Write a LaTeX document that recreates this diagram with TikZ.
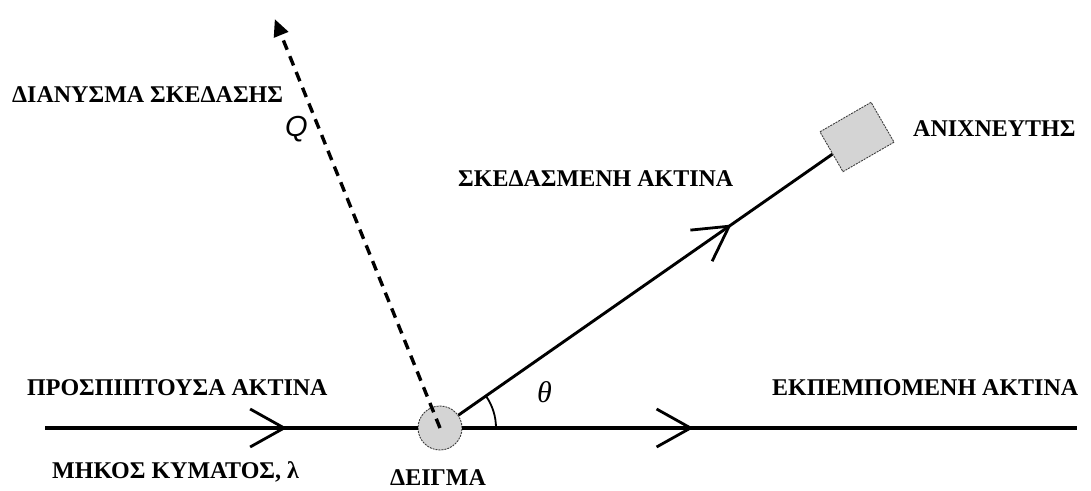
\documentclass[tikz,border=0pt]{standalone}
\usepackage{fontspec}
\setmainfont{Liberation Serif}
\newfontfamily\vecfont{Liberation Sans}
\usetikzlibrary{arrows.meta, positioning, decorations.markings}
\definecolor{samplegray}{RGB}{212,212,212}
\definecolor{edgegray}{RGB}{60,60,60}

\begin{document}
\begin{tikzpicture}[x=1pt, y=1pt,
    beamtext/.style={font=\fontsize{24}{26}\selectfont\bfseries, inner sep=0pt, anchor=base west},
    symtext/.style={inner sep=0pt, anchor=base west},
    beam/.style={line width=3.2pt},
    chevron/.style={postaction={decorate},
        decoration={markings, mark=at position #1 with
        {\arrow{Straight Barb[length=34pt, width=38pt, line width=2.8pt]}}}},
    holder/.style={fill=samplegray, draw=edgegray, line width=0.9pt,
                   dash pattern=on 2pt off 1pt},
    qvec/.style={line width=3.4pt, dash pattern=on 10pt off 7pt,
                 -{Triangle[length=17pt, width=15pt]}}
]
\useasboundingbox (0,0) rectangle (1091,490);

% sample and detector
\node[holder, circle, minimum size=44pt, inner sep=0pt] (smp) at (440,62) {};
\node[holder, rectangle, rotate=30, minimum width=59pt, minimum height=46pt,
      inner sep=0pt] (det) at (857,353) {};

\coordinate (src)  at (45,62);
\coordinate (sink) at (1077,62);
\path (smp.center) ++(112:441) coordinate (qtip);

% beams
\draw[beam, chevron=242pt] (src) -- (smp);
\draw[beam, chevron=231pt] (smp) -- (sink);
\draw[beam, line width=2.9pt, chevron=333pt] (smp) -- (det);
\draw[qvec] (smp.center) -- (qtip);
\draw[line width=1.8pt] (smp.center) ++(0:56) arc[start angle=0, end angle=35, radius=56];

% labels
\node[beamtext] (qTitle)   at (12,387)  {ΔΙΑΝΥΣΜΑ ΣΚΕΔΑΣΗΣ};
\node[beamtext] (scatTxt)  at (458,303) {ΣΚΕΔΑΣΜΕΝΗ ΑΚΤΙΝΑ};
\node[beamtext] (detTxt)   at (913,353) {ΑΝΙΧΝΕΥΤΗΣ};
\node[beamtext] (incTxt)   at (27,95)   {ΠΡΟΣΠΙΠΤΟΥΣΑ ΑΚΤΙΝΑ};
\node[beamtext] (waveTxt)  at (52,12)   {ΜΗΚΟΣ ΚΥΜΑΤΟΣ, λ};
\node[beamtext] (outTxt)   at (772,95)  {ΕΚΠΕΜΠΟΜΕΝΗ ΑΚΤΙΝΑ};
\node[beamtext] (smpTxt)   at (390,5)   {ΔΕΙΓΜΑ};
\node[symtext, font=\vecfont\itshape\fontsize{29}{31}\selectfont] (qTxt) at (285,353) {Q};
\node[symtext, font=\itshape\fontsize{30}{32}\selectfont] (thTxt) at (537,88) {θ};
\end{tikzpicture}
\end{document}
